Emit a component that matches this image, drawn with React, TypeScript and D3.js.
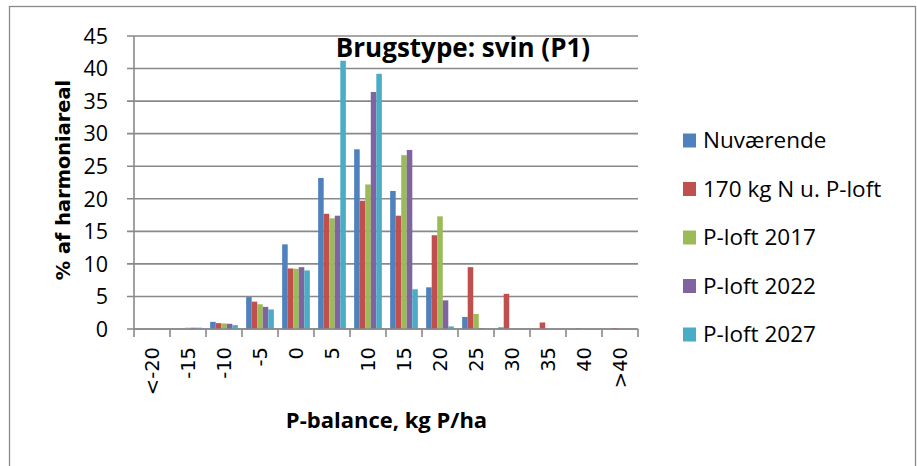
import React from 'react';
import * as d3 from 'd3';

// P-balance classes (kg P/ha) and share of harmoniareal (%)
const categories = ['<-20', '-15', '-10', '-5', '0', '5', '10', '15', '20', '25', '30', '35', '40', '>40'];
const nuvaerende = [0, 0, 1.1, 4.9, 13.0, 23.2, 27.6, 21.2, 6.4, 1.85, 0.25, 0, 0, 0];
const kg170 = [0, 0, 0.9, 4.2, 9.3, 17.7, 19.7, 17.4, 14.4, 9.5, 5.4, 1.0, 0.1, 0.15];
const ploft2017 = [0, 0.2, 0.85, 3.8, 9.25, 17.0, 22.2, 26.7, 17.3, 2.3, 0, 0, 0, 0];
const ploft2022 = [0, 0.2, 0.8, 3.4, 9.5, 17.4, 36.4, 27.5, 4.4, 0.1, 0, 0, 0, 0];
const ploft2027 = [0, 0.2, 0.6, 3.0, 9.0, 41.2, 39.2, 6.1, 0.4, 0.05, 0, 0, 0, 0];
const seriesNames = ['Nuværende', '170 kg N u. P-loft', 'P-loft 2017', 'P-loft 2022', 'P-loft 2027'];
const colors = ['#4F81BD', '#C0504D', '#9BBB59', '#8064A2', '#4BACC6'];
const yTicks = [0, 5, 10, 15, 20, 25, 30, 35, 40, 45];

const W = 917;
const H = 466;
const left = 134, right = 638, top = 36, bottom = 329;
const grid = '#898989';
const font = "'DejaVu Sans', sans-serif";
const font2 = "'Open Sans', sans-serif";

export default function App() {
  const series = [nuvaerende, kg170, ploft2017, ploft2022, ploft2027];

  const x = d3.scaleBand().domain(categories).range([left, right]).padding(0);
  const xInner = d3
    .scaleBand()
    .domain(seriesNames)
    .range([0, x.bandwidth()])
    .paddingInner(0)
    .paddingOuter(0.75);
  const y = d3.scaleLinear().domain([0, 45]).range([bottom, top]);

  const boundaries = categories.map(c => x(c)).concat([right]);

  return (
    <div style={{ position: 'absolute', left: 0, top: 0 }}>
      <svg width={W} height={H} style={{ display: 'block', background: '#fff' }}>
        <rect x={9.5} y={6.5} width={906} height={480} fill="#fff" stroke="#8a8a8a" strokeWidth={1.3} />

        {/* gridlines + y ticks */}
        {yTicks.map(t => (
          <g key={t}>
            <line x1={127} x2={right} y1={y(t)} y2={y(t)} stroke={grid} strokeWidth={1.6} />
            <text x={108} y={y(t)} dy="0.36em" textAnchor="end" fontFamily={font2} fontSize={21.5} fill="#000">
              {t}
            </text>
          </g>
        ))}

        {/* bars */}
        {series.map((vals, si) => (
          <g key={si} fill={colors[si]}>
            {vals.map((v, ci) => (
              <rect
                key={ci}
                x={(x(categories[ci]) as number) + (xInner(seriesNames[si]) as number)}
                y={y(v)}
                width={xInner.bandwidth()}
                height={bottom - y(v)}
              />
            ))}
          </g>
        ))}

        {/* axes */}
        <line x1={left} x2={left} y1={top} y2={bottom} stroke={grid} strokeWidth={1.6} />
        <line x1={left} x2={right} y1={bottom} y2={bottom} stroke={grid} strokeWidth={1.6} />
        {boundaries.map((b, i) => (
          <line key={i} x1={b} x2={b} y1={bottom} y2={337} stroke={grid} strokeWidth={1.6} />
        ))}

        {/* x tick labels */}
        {categories.map(c => {
          const cx = (x(c) as number) + x.bandwidth() / 2;
          return (
            <text
              key={c}
              transform={`translate(${cx},347) rotate(-90)`}
              dy="0.36em"
              textAnchor="end"
              fontFamily={font}
              fontSize={19.5}
              fill="#000"
            >
              {c}
            </text>
          );
        })}

        {/* titles */}
        <text x={463} y={57} textAnchor="middle" fontFamily={font2} fontWeight="bold" fontSize={26}>
          Brugstype: svin (P1)
        </text>
        <text
          transform="translate(70,180) rotate(-90)"
          textAnchor="middle"
          fontFamily={font}
          fontWeight="bold"
          fontSize={19.4}
        >
          % af harmoniareal
        </text>
        <text x={386.5} y={428} textAnchor="middle" fontFamily={font2} fontWeight="bold" fontSize={22}>
          P-balance, kg P/ha
        </text>

        {/* legend */}
        {seriesNames.map((s, i) => {
          const cy = 140.5 + i * 48.5;
          return (
            <g key={s}>
              <rect x={683} y={cy - 7} width={13} height={14} fill={colors[i]} />
              <text x={703} y={cy + 7.5} fontFamily={font2} fontSize={22.5}>
                {s}
              </text>
            </g>
          );
        })}
      </svg>
    </div>
  );
}
